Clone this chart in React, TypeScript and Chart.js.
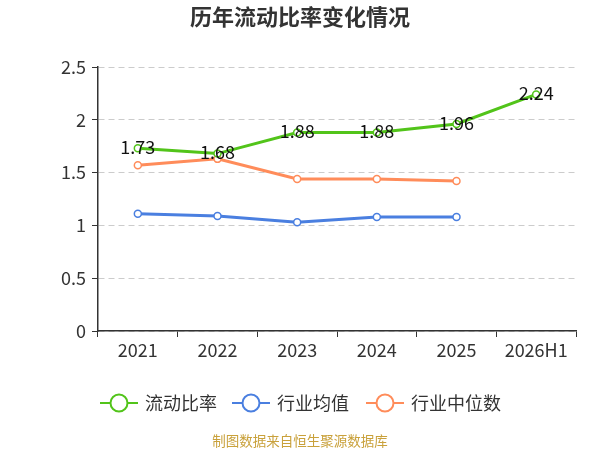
import React, { useRef, useEffect } from "react";
import { Chart, registerables } from "chart.js";

Chart.register(...registerables);

const categories = ["2021", "2022", "2023", "2024", "2025", "2026H1"];
const currentRatio = [1.73, 1.68, 1.88, 1.88, 1.96, 2.24];
const industryMean = [1.11, 1.09, 1.03, 1.08, 1.08, null];
const industryMedian = [1.57, 1.63, 1.44, 1.44, 1.42, null];
const yTicks = [0, 0.5, 1, 1.5, 2, 2.5];

const FONT = "'Noto Sans CJK SC', 'Noto Sans', sans-serif";
const GREEN = "#52c41a";
const BLUE = "#4a7fe0";
const ORANGE = "#ff8c5a";

const decorPlugin = {
  id: "decor",
  afterDatasetsDraw(chart: any) {
    const ctx = chart.ctx;
    const meta = chart.getDatasetMeta(0);
    ctx.save();
    // value labels on the green series
    ctx.fillStyle = "#111";
    ctx.font = `18px ${FONT}`;
    ctx.textAlign = "center";
    ctx.textBaseline = "middle";
    meta.data.forEach((pt: any, i: number) => {
      ctx.fillText(currentRatio[i].toFixed(2), pt.x, pt.y - 1);
    });

    // title
    ctx.fillStyle = "#333";
    ctx.font = `bold 22px ${FONT}`;
    ctx.fillText("历年流动比率变化情况", 300, 17);

    // legend
    const items = [
      { label: "流动比率", color: GREEN, x: 100 },
      { label: "行业均值", color: BLUE, x: 232 },
      { label: "行业中位数", color: ORANGE, x: 366 },
    ];
    const ly = 403;
    items.forEach((it) => {
      ctx.strokeStyle = it.color;
      ctx.lineWidth = 2;
      ctx.beginPath();
      ctx.moveTo(it.x, ly);
      ctx.lineTo(it.x + 38, ly);
      ctx.stroke();
      ctx.beginPath();
      ctx.arc(it.x + 19, ly, 8.5, 0, Math.PI * 2);
      ctx.fillStyle = "#fff";
      ctx.fill();
      ctx.stroke();
      ctx.fillStyle = "#333";
      ctx.font = `18px ${FONT}`;
      ctx.textAlign = "left";
      ctx.fillText(it.label, it.x + 45, ly);
    });

    // source
    ctx.fillStyle = "#c9a13b";
    ctx.font = `13.5px ${FONT}`;
    ctx.textAlign = "center";
    ctx.fillText("制图数据来自恒生聚源数据库", 300, 441);
    ctx.restore();
  },
};

const makeSet = (label: string, data: (number | null)[], color: string) => ({
  label,
  data,
  borderColor: color,
  backgroundColor: "#fff",
  pointBackgroundColor: "#fff",
  pointBorderColor: color,
  pointBorderWidth: 1.5,
  pointRadius: 3.5,
  borderWidth: 3,
  tension: 0,
  spanGaps: false,
});

const App = () => {
  const chartContainer = useRef<HTMLCanvasElement>(null);

  useEffect(() => {
    document.body.style.margin = "0";
    if (!chartContainer.current) return;
    const chart = new Chart(chartContainer.current, {
      type: "line",
      data: {
        labels: categories,
        datasets: [
          makeSet("流动比率", currentRatio, GREEN),
          makeSet("行业均值", industryMean, BLUE),
          makeSet("行业中位数", industryMedian, ORANGE),
        ],
      },
      options: {
        responsive: false,
        animation: false,
        layout: { padding: { left: 0, top: 67, right: 24, bottom: 88 } },
        plugins: {
          legend: { display: false },
          title: { display: false },
          tooltip: { enabled: false },
        },
        scales: {
          x: {
            type: "category",
            offset: true,
            afterFit: (s: any) => {
              s.height = 31;
            },
            grid: {
              offset: true,
              drawOnChartArea: false,
              drawTicks: true,
              tickLength: 6,
              color: "#333",
              lineWidth: 1,
            },
            border: { display: true, color: "#333", width: 1.5 },
            ticks: {
              color: "#333",
              font: { family: FONT, size: 18 },
              padding: 2,
              maxRotation: 0,
            },
          },
          y: {
            min: 0,
            max: 2.5,
            afterFit: (s: any) => {
              s.width = 98;
            },
            afterBuildTicks: (s: any) => {
              s.ticks = yTicks.map((v) => ({ value: v }));
            },
            grid: {
              color: "#cccccc",
              lineWidth: 1,
              tickLength: 6,
              tickColor: "#333",
              drawTicks: true,
            },
            border: { display: true, color: "#333", width: 1.5, dash: [6, 4] },
            ticks: {
              color: "#333",
              font: { family: FONT, size: 18 },
              padding: 6,
              callback: (v: any) => String(v),
            },
          },
        },
      },
      plugins: [decorPlugin],
    } as any);
    return () => {
      chart.destroy();
    };
  }, []);

  return (
    <div style={{ width: 600, height: 450 }}>
      <canvas ref={chartContainer} width={600} height={450} />
    </div>
  );
};

export default App;
